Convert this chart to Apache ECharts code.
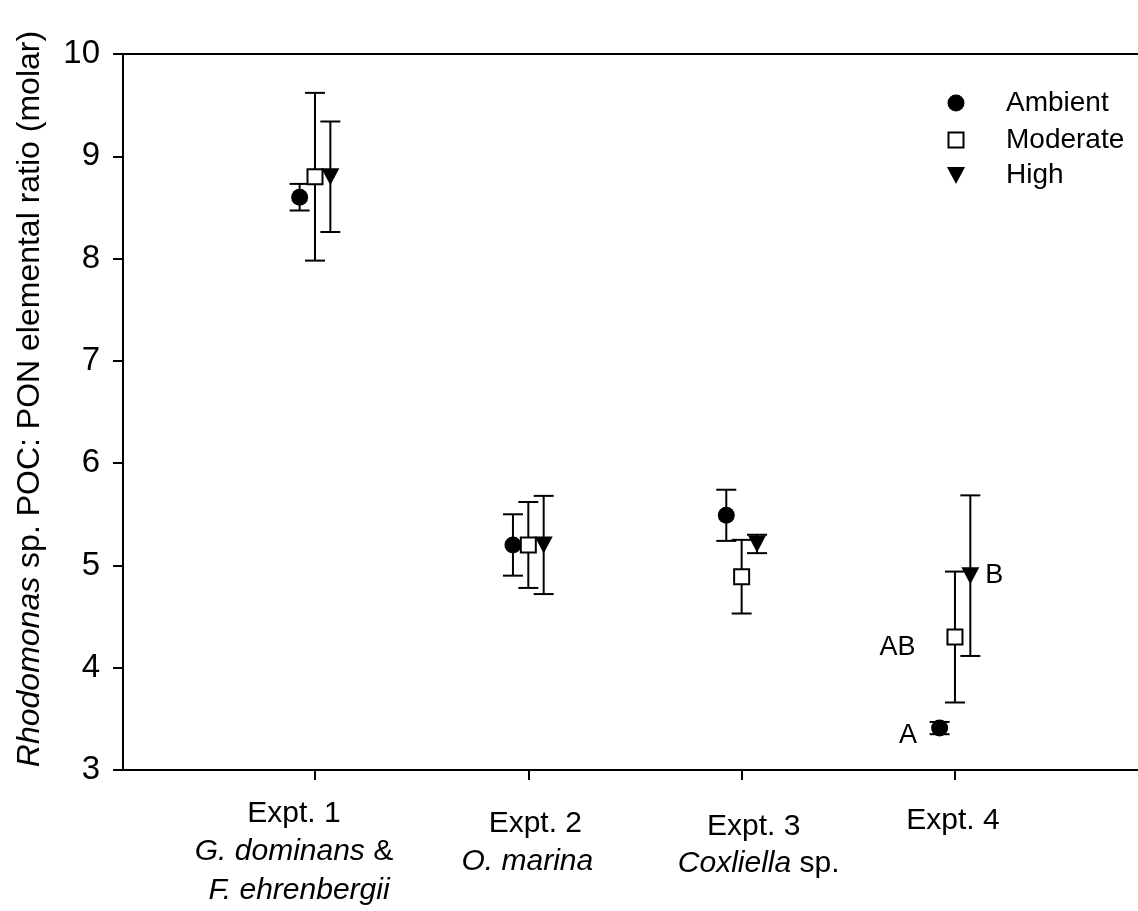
<!DOCTYPE html>
<html>
<head>
<meta charset="utf-8">
<script src="https://cdn.jsdelivr.net/npm/echarts@6/dist/echarts.min.js"></script>
<style>
  html, body { margin: 0; padding: 0; background: #fff; }
  #chart { width: 1138px; height: 911px; }
</style>
</head>
<body>
<div id="chart"></div>
<script>
// Experiments (x positions) and treatment groups
const experiments = [1, 2, 3, 4];
const treatments = ['Ambient', 'Moderate', 'High'];

// POC:PON molar ratio, mean and error per experiment
const ambientMean  = [8.60, 5.20, 5.49, 3.41];
const ambientErr   = [0.13, 0.30, 0.25, 0.06];
const moderateMean = [8.80, 5.20, 4.89, 4.30];
const moderateErr  = [0.82, 0.42, 0.36, 0.64];
const highMean     = [8.80, 5.20, 5.21, 4.90];
const highErr      = [0.54, 0.48, 0.09, 0.785];

// Significance letters for Expt. 4 (Ambient, Moderate, High)
const expt4Letters = ['A', 'AB', 'B'];

// Category label lines (rich text)
const categoryLines = [
  ['{n|Expt. 1}', '{i|G. dominans}{n| &}', '{i|F. ehrenbergii}'],
  ['{n|Expt. 2}', '{i|O. marina}'],
  ['{n|Expt. 3}', '{i|Coxliella}{n| sp.}'],
  ['{n|Expt. 4}']
];

// Y axis range and title
const yMin = 3, yMax = 10, yStep = 1;
const yTitleItalic = 'Rhodomonas';
const yTitleRest = ' sp. POC: PON elemental ratio (molar)';

const FONT = '"Liberation Sans", Arial, sans-serif';
const DODGE = 0.072;

const chart = echarts.init(document.getElementById('chart'), null, { renderer: 'canvas' });

function errorBars(name, means, errs, shift) {
  return {
    type: 'custom',
    name: name + ' error',
    silent: true,
    clip: false,
    z: 2,
    data: means.map((m, i) => [experiments[i] + shift, m - errs[i], m + errs[i]]),
    encode: { x: 0, y: [1, 2] },
    renderItem(params, api) {
      const x = api.value(0);
      const lo = api.coord([x, api.value(1)]);
      const hi = api.coord([x, api.value(2)]);
      const w = 10;
      const st = { stroke: '#000', lineWidth: 2 };
      return {
        type: 'group',
        children: [
          { type: 'line', shape: { x1: lo[0], y1: lo[1], x2: hi[0], y2: hi[1] }, style: st },
          { type: 'line', shape: { x1: lo[0] - w, y1: lo[1], x2: lo[0] + w, y2: lo[1] }, style: st },
          { type: 'line', shape: { x1: hi[0] - w, y1: hi[1], x2: hi[0] + w, y2: hi[1] }, style: st }
        ]
      };
    }
  };
}

function points(name, means, shift, symbolOpts, letterLabel) {
  return Object.assign({
    type: 'scatter',
    name: name,
    z: 5,
    silent: true,
    data: means.map((m, i) => {
      const item = { value: [experiments[i] + shift, m] };
      if (i === 3) item.label = letterLabel;
      return item;
    })
  }, symbolOpts);
}

const letterFont = { show: true, color: '#000', opacity: 1, fontFamily: FONT, fontSize: 27 };

const option = {
  animation: false,
  backgroundColor: '#fff',
  grid: { left: 123, top: 54, right: 0, height: 716, containLabel: false },
  xAxis: [
    {
      type: 'value', min: 0.1, max: 4.858, position: 'bottom',
      axisLine: { show: true, onZero: false, lineStyle: { color: '#000', width: 2 } },
      axisTick: { show: true, inside: false, length: 10, customValues: experiments, lineStyle: { color: '#000', width: 2 } },
      axisLabel: { show: false },
      splitLine: { show: false }
    },
    {
      type: 'value', min: 0.1, max: 4.858, position: 'top',
      axisLine: { show: true, onZero: false, lineStyle: { color: '#000', width: 2 } },
      axisTick: { show: false }, axisLabel: { show: false }, splitLine: { show: false }
    }
  ],
  yAxis: {
    type: 'value', min: yMin, max: yMax, interval: yStep,
    axisLine: { show: true, onZero: false, lineStyle: { color: '#000', width: 2 } },
    axisTick: { show: true, inside: false, length: 10, lineStyle: { color: '#000', width: 2 } },
    axisLabel: { color: '#000', fontFamily: FONT, fontSize: 33, margin: 23 },
    splitLine: { show: false }
  },
  series: [
    errorBars('Ambient', ambientMean, ambientErr, -DODGE),
    errorBars('Moderate', moderateMean, moderateErr, 0),
    errorBars('High', highMean, highErr, DODGE),
    points('Ambient', ambientMean, -DODGE,
      { symbol: 'circle', symbolSize: 17, itemStyle: { color: '#000', opacity: 1 } },
      Object.assign({ formatter: expt4Letters[0], position: 'left', distance: 14, offset: [0, 7] }, letterFont)),
    points('Moderate', moderateMean, 0,
      { symbol: 'rect', symbolSize: 15, itemStyle: { color: '#fff', borderColor: '#000', borderWidth: 2, opacity: 1 } },
      Object.assign({ formatter: expt4Letters[1], position: 'left', distance: 31, offset: [0, 11] }, letterFont)),
    points('High', highMean, DODGE,
      { symbol: 'triangle', symbolSize: [18, 17], symbolRotate: 180, itemStyle: { color: '#000', opacity: 1 } },
      Object.assign({ formatter: expt4Letters[2], position: 'right', distance: 6, offset: [0, 0] }, letterFont))
  ]
};

chart.setOption(option);

// Category labels under each tick, legend and rotated y-axis title
const lineY = [[814, 852, 891], [824, 862], [827, 864], [821]];
const lineDX = [[-21, -21, -16], [7, -1], [12, 17], [-2]];
const rich = {
  n: { fontFamily: FONT, fontSize: 30, color: '#000' },
  i: { fontFamily: FONT, fontSize: 30, color: '#000', fontStyle: 'italic' }
};
const graphics = [];
categoryLines.forEach((lines, k) => {
  const px = chart.convertToPixel({ xAxisIndex: 0 }, experiments[k]);
  lines.forEach((t, j) => {
    graphics.push({
      type: 'text', x: px + lineDX[k][j], y: lineY[k][j],
      style: { text: t, rich: rich, align: 'center', verticalAlign: 'middle' }
    });
  });
});

// Legend
const legendX = 956, legendTextX = 1006, legendY = [103, 140, 175];
graphics.push({ type: 'circle', shape: { cx: legendX, cy: legendY[0], r: 8.5 }, style: { fill: '#000' } });
graphics.push({ type: 'rect', shape: { x: legendX - 7.5, y: legendY[1] - 7.5, width: 15, height: 15 }, style: { fill: '#fff', stroke: '#000', lineWidth: 2 } });
graphics.push({ type: 'polygon', shape: { points: [[legendX - 9, legendY[2] - 8], [legendX + 9, legendY[2] - 8], [legendX, legendY[2] + 9]] }, style: { fill: '#000' } });
treatments.forEach((t, k) => {
  graphics.push({
    type: 'text', x: legendTextX, y: legendY[k],
    style: { text: t, fontFamily: FONT, fontSize: 28, fill: '#000', align: 'left', verticalAlign: 'middle' }
  });
});

// Y-axis title
graphics.push({
  type: 'text', x: 30, y: 399, rotation: Math.PI / 2,
  style: {
    text: '{i|' + yTitleItalic + '}{n|' + yTitleRest + '}',
    rich: {
      n: { fontFamily: FONT, fontSize: 32, color: '#000' },
      i: { fontFamily: FONT, fontSize: 32, color: '#000', fontStyle: 'italic' }
    },
    align: 'center', verticalAlign: 'middle'
  }
});

chart.setOption({ graphic: { elements: graphics } });
</script>
</body>
</html>
